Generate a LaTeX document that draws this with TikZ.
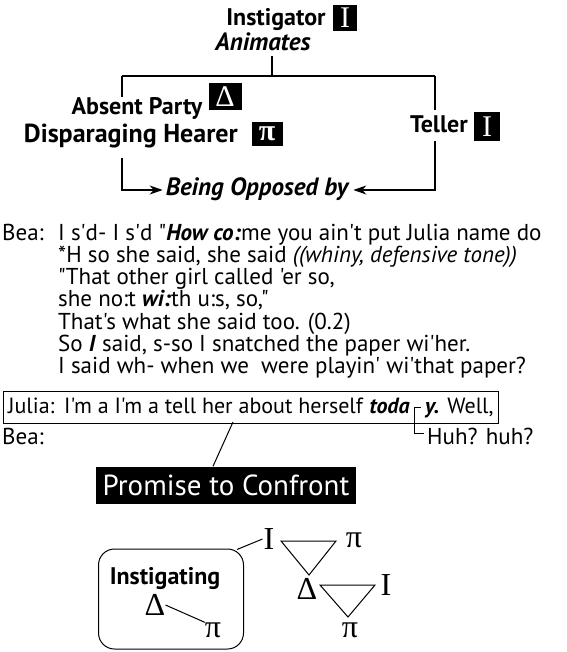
\documentclass[tikz,border=0pt]{standalone}
\usepackage{fontspec}
\setmainfont{PT Sans}[Ligatures=TeXOff]
\newfontfamily\grkfont{Liberation Serif}
\usetikzlibrary{positioning,fit,arrows.meta}

\begin{document}
\begin{tikzpicture}[x=1pt,y=-1pt,
  head/.style={font=\bfseries\fontsize{24}{26}\selectfont, inner sep=0pt, anchor=base},
  headit/.style={font=\bfseries\itshape\fontsize{25}{27}\selectfont, inner sep=0pt, anchor=base},
  tag/.style={fill=black, text=white, font=\grkfont\fontsize{30}{30}\selectfont, inner sep=0pt},
  txt/.style={font=\fontsize{23}{25}\selectfont, inner sep=0pt, text height=16pt, text depth=5pt},
  grk/.style={font=\grkfont\fontsize{32}{32}\selectfont, inner sep=0pt},
  link/.style={line width=1.4pt},
  oppose/.style={line width=1.4pt, -{Stealth[length=13pt,width=9pt,inset=4pt]}}]

\useasboundingbox (0,0) rectangle (566,652);

% participation frame
\node[head] (inst) at (276,26) {Instigator};
\node[tag, minimum width=24pt, minimum height=26pt] (instI) at (345,18) {I};
\node[headit] (anim) at (263,51) {Animates};
\coordinate (fork) at (272,76);
\coordinate (lt) at (122,76);
\coordinate (rt) at (435,76);
\draw[link] (272,56) -- (fork);
\draw[link] (lt) -- (rt);

\node[head] (absent) at (137,115) {Absent Party};
\node[tag, minimum width=33pt, minimum height=27pt] (absD) at (225,97) {Δ};
\node[head, font=\bfseries\fontsize{26}{28}\selectfont, anchor=base east] (dispar) at (238,143) {Disparaging Hearer};
\node[tag, minimum width=31pt, minimum height=24pt] (disP) at (267,134) {\textbf{π}};
\node[head, anchor=base west] (teller) at (410,133) {Teller};
\node[tag, minimum width=26pt, minimum height=29pt] (tellI) at (487,127) {I};
\node[headit] (being) at (257,196) {Being Opposed by};
\coordinate (opp) at (0,190);

\draw[link] (lt) -- (122,97);
\draw[oppose] (122,158) |- ([xshift=-3pt]being.west |- opp);
\draw[link] (rt) -- (435,110);
\draw[oppose] (435,141) |- ([xshift=5pt]being.east |- opp);

% transcript
\node[txt, anchor=base west] (bea) at (2,240) {Bea:};
\foreach \ln [count=\k] in {%
  {I s'd- I s'd "\textbf{\textit{How co:}}me you ain't put Julia name do},
  {*H so she said, she said \textit{((whiny, defensive tone))}},
  {"That other girl called 'er so,},
  {she no:t \textbf{\textit{wi:}}th u:s, so,"},
  {That's what she said too. (0.2)},
  {So \textbf{\textit{I}} said, s-so I snatched the paper wi'her.},
  {I said wh- when we\ \ were playin' wi'that paper?}}
  \node[txt, anchor=base west] (ln\k) at (58,240+22.3*\k-22.3) {\ln};

\node[txt, font=\fontsize{22}{24}\selectfont, anchor=base west] (julia) at (8,413) {Julia:};
\node[txt, font=\fontsize{22}{24}\selectfont, anchor=base west] (jsay) at (64,413) {I'm a I'm a tell her about herself \textbf{\textit{toda}}};
\node[txt, font=\fontsize{22}{24}\selectfont, right=15pt of jsay] (jend) {\textbf{\textit{y.}} Well,};
\node[draw, line width=1pt, fit=(julia)(jend), inner xsep=5pt, inner ysep=5pt] (jbox) {};
\node[txt, anchor=base west] (bea2) at (2,444) {Bea:};
\coordinate (ovl) at ([xshift=5pt,yshift=6pt]jsay.base east);
\coordinate (hb) at (0,444);
\node[txt, anchor=base west] (huh) at ([xshift=12pt]ovl |- hb) {Huh? huh?};
\draw[line width=1pt] ([xshift=6pt]ovl) -- (ovl) |- ([xshift=-3pt,yshift=11pt]huh.base west);

\node[fill=black, text=white, font=\fontsize{29}{31}\selectfont, inner xsep=7pt, minimum height=37pt] (promise) at (226,485) {Promise to Confront};
\draw[line width=1pt] (233,422) -- (promise.north -| 213,0);

% configuration
\node[draw, line width=1pt, rounded corners=16pt, minimum width=145pt, minimum height=100pt] (igbox) at (171,599) {};
\node[head] (instig) at (165,584) {Instigating};
\node[grk] (igD) at (155,605) {Δ};
\node[grk] (igP) at (213,630) {π};
\draw[line width=1pt] (igD.east) -- (igP.north west);

\node[grk] (i1) at (269,539) {I};
\node[grk] (p1) at (354,540) {π};
\node[grk] (d2) at (307,589) {Δ};
\node[grk] (i2) at (386,585) {I};
\node[grk] (p2) at (350,630) {π};
\draw[line width=1pt] ([xshift=-7pt,yshift=-1pt]igbox.north east) -- ([xshift=-1pt]i1.west);
\draw[line width=1pt] (281,541) -- (336,541) -- (309,575) -- cycle;
\draw[line width=1pt] (320,585) -- (375,585) -- (348,617) -- cycle;
\end{tikzpicture}
\end{document}
